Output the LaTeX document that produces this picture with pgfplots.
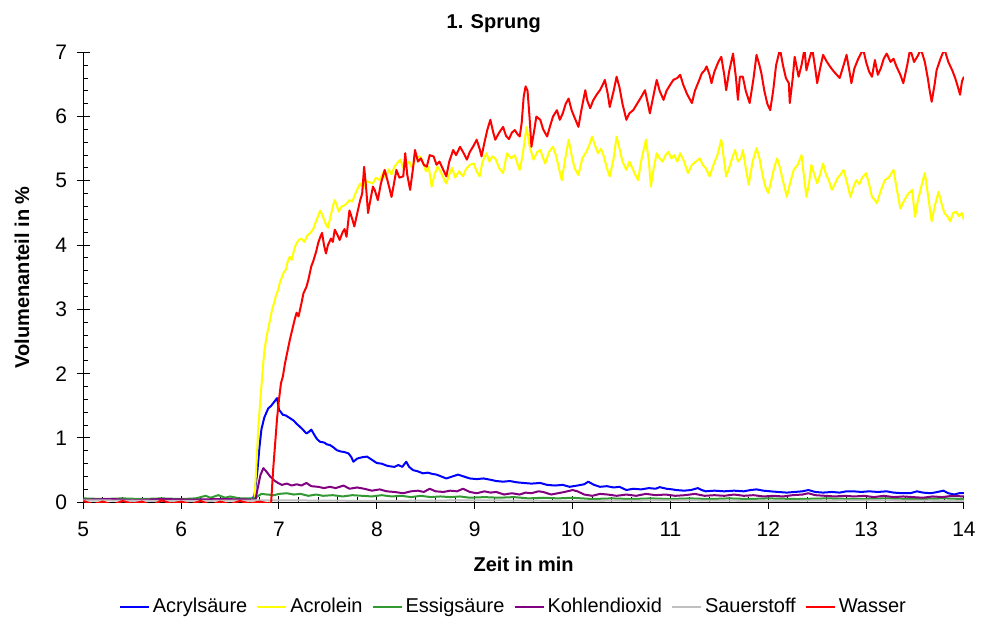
\documentclass[border=0pt]{standalone}
\usepackage{fontspec}
\setmainfont{Liberation Sans}
\usepackage{pgfplots}
\pgfplotsset{compat=1.18}

\definecolor{cAcryl}{RGB}{0,0,255}
\definecolor{cAcrolein}{RGB}{255,255,0}
\definecolor{cEssig}{RGB}{51,153,51}
\definecolor{cCO2}{RGB}{128,0,128}
\definecolor{cO2}{RGB}{192,192,192}
\definecolor{cWasser}{RGB}{255,0,0}

\begin{document}
\begin{tikzpicture}
\begin{axis}[
  scale only axis,
  width=440.4pt, height=225pt,
  xmin=5, xmax=14, ymin=0, ymax=7,
  axis x line=bottom, axis y line=left,
  axis line style={-, black, line width=0.5pt},
  xtick={5,...,14}, ytick={0,...,7},
  minor x tick num=4, minor y tick num=4,
  tick align=inside,
  major tick length=6.3pt, minor tick length=2.6pt,
  major x tick style={yshift=-3.15pt, black, line width=0.5pt},
  major y tick style={xshift=-3.15pt, black, line width=0.5pt},
  minor tick style={black, line width=0.5pt},
  /pgf/number format/assume math mode=true,
  tick label style={font=\fontsize{10.5}{12}\selectfont},
  xticklabel style={anchor=north, yshift=-6.5pt},
  yticklabel style={anchor=east, xshift=-4.6pt},
  every axis title shift=0pt,
  title={1. Sprung},
  title style={font=\bfseries\fontsize{10}{12}\selectfont, at={(axis description cs:0.466,1.064)}, anchor=center},
  xlabel={Zeit in min},
  xlabel style={font=\bfseries\fontsize{10}{12}\selectfont, at={(axis description cs:0.5,-0.139)}, anchor=center},
  ylabel={Volumenanteil in \%},
  ylabel style={font=\bfseries\fontsize{10}{12}\selectfont, at={(axis description cs:-0.0696,0.5)}, anchor=center},
  legend columns=6,
  legend style={draw=none, fill=none, font=\fontsize{10}{12}\selectfont,
    at={(axis description cs:0.4889,-0.2324)}, anchor=center,
    /tikz/every even column/.append style={column sep=3pt},
    nodes={inner sep=1.5pt}},
  legend image code/.code={\draw[#1, line width=1pt] (0pt,0pt) -- (14.5pt,0pt);},
  every axis plot/.append style={line width=1pt, line join=round},
]

% Acrylsaeure
\addplot[cAcryl] coordinates {
(5.0,0.03)(5.3,0.04)(5.6,0.03)(5.9,0.04)(6.2,0.03)(6.5,0.04)(6.72,0.03)
(6.75,0.11)(6.78,0.5)(6.80,0.85)(6.82,1.13)(6.85,1.32)(6.89,1.46)(6.92,1.5)(6.94,1.54)
(6.96,1.58)(6.98,1.62)(7.00,1.44)(7.02,1.40)(7.04,1.36)(7.07,1.35)(7.11,1.31)(7.15,1.27)
(7.18,1.22)(7.21,1.18)(7.25,1.12)(7.28,1.07)(7.31,1.10)(7.33,1.13)(7.36,1.05)(7.39,0.98)
(7.42,0.94)(7.46,0.93)(7.49,0.90)(7.52,0.89)(7.56,0.85)(7.59,0.81)(7.63,0.79)(7.67,0.78)
(7.71,0.76)(7.74,0.70)(7.76,0.63)(7.80,0.68)(7.85,0.70)(7.90,0.71)(7.95,0.66)(8.00,0.61)
(8.05,0.60)(8.10,0.57)(8.13,0.56)(8.18,0.55)(8.22,0.58)(8.26,0.55)(8.30,0.63)(8.33,0.55)
(8.37,0.50)(8.42,0.48)(8.47,0.45)(8.52,0.46)(8.57,0.44)(8.61,0.43)(8.66,0.40)(8.71,0.37)
(8.77,0.40)(8.83,0.43)(8.89,0.40)(8.95,0.37)(9.02,0.36)(9.09,0.37)(9.16,0.35)(9.22,0.33)
(9.29,0.32)(9.36,0.33)(9.43,0.31)(9.50,0.30)(9.58,0.29)(9.67,0.30)(9.74,0.27)(9.82,0.26)
(9.90,0.27)(9.97,0.24)(10.05,0.26)(10.12,0.28)(10.16,0.32)(10.22,0.27)(10.28,0.24)(10.35,0.25)
(10.42,0.23)(10.48,0.24)(10.55,0.19)(10.62,0.21)(10.70,0.20)(10.78,0.22)(10.85,0.21)(10.89,0.235)
(10.96,0.21)(11.02,0.20)(11.06,0.19)(11.14,0.18)(11.21,0.19)(11.28,0.22)(11.32,0.19)(11.36,0.17)
(11.45,0.18)(11.55,0.17)(11.65,0.18)(11.75,0.17)(11.82,0.19)(11.88,0.20)(11.95,0.18)(12.02,0.17)
(12.10,0.16)(12.19,0.15)(12.27,0.16)(12.35,0.17)(12.41,0.19)(12.48,0.16)(12.56,0.15)(12.65,0.16)
(12.73,0.15)(12.80,0.17)(12.87,0.17)(12.95,0.16)(13.03,0.17)(13.12,0.16)(13.21,0.17)(13.28,0.15)
(13.38,0.14)(13.45,0.14)(13.52,0.17)(13.58,0.15)(13.66,0.14)(13.73,0.16)(13.79,0.18)(13.84,0.14)
(13.90,0.12)(13.95,0.14)(14.00,0.14)
};
\addlegendentry{Acrylsäure}

% Acrolein
\addplot[cAcrolein] coordinates {
(5.0,0.03)(5.5,0.04)(6.0,0.03)(6.5,0.04)(6.73,0.03)
(6.75,0.05)(6.77,0.6)(6.79,1.2)(6.81,1.6)(6.83,2.0)(6.85,2.35)(6.87,2.55)(6.89,2.7)
(6.91,2.85)(6.93,3.0)(6.95,3.1)(6.97,3.22)(6.99,3.3)(7.01,3.42)(7.03,3.5)(7.05,3.58)
(7.07,3.62)(7.09,3.75)(7.11,3.82)(7.13,3.77)(7.15,3.9)(7.17,4.0)(7.20,4.08)(7.23,4.1)
(7.26,4.05)(7.29,4.15)(7.32,4.19)(7.35,4.25)(7.38,4.38)(7.40,4.45)(7.42,4.54)(7.44,4.48)
(7.46,4.4)(7.48,4.32)(7.50,4.27)(7.52,4.4)(7.55,4.6)(7.57,4.70)(7.59,4.62)(7.61,4.52)
(7.64,4.6)(7.67,4.62)(7.70,4.66)(7.72,4.70)(7.75,4.68)(7.78,4.8)(7.81,4.9)(7.83,4.96)
(7.86,4.88)(7.89,5.0)(7.92,4.98)(7.96,4.96)(7.99,5.05)(8.03,5.01)(8.06,5.12)(8.09,5.05)
(8.12,5.18)(8.15,5.1)(8.18,5.22)(8.21,5.28)(8.24,5.33)(8.27,5.2)(8.30,5.25)(8.33,5.3)
(8.36,5.2)(8.40,5.35)(8.44,5.38)(8.47,5.3)(8.50,5.15)(8.53,5.22)(8.56,4.91)(8.59,5.1)
(8.62,5.22)(8.65,5.15)(8.68,5.05)(8.71,4.96)(8.74,5.1)(8.77,5.2)(8.80,5.05)(8.84,5.15)
(8.88,5.07)(8.91,5.18)(8.95,5.25)(8.99,5.27)(9.02,5.15)(9.05,5.07)(9.08,5.3)(9.12,5.43)
(9.15,5.3)(9.18,5.38)(9.21,5.35)(9.25,5.2)(9.29,5.12)(9.33,5.43)(9.37,5.35)(9.41,5.4)
(9.44,5.25)(9.46,5.17)(9.49,5.4)(9.53,5.84)(9.56,5.55)(9.60,5.33)(9.64,5.45)(9.67,5.48)
(9.70,5.35)(9.72,5.27)(9.76,5.45)(9.80,5.53)(9.83,5.4)(9.86,5.2)(9.89,5.01)(9.92,5.3)
(9.96,5.64)(9.99,5.4)(10.02,5.2)(10.06,5.09)(10.10,5.35)(10.14,5.45)(10.17,5.55)(10.20,5.69)
(10.23,5.55)(10.26,5.43)(10.29,5.5)(10.32,5.38)(10.35,5.2)(10.38,5.07)(10.42,5.35)(10.45,5.69)
(10.48,5.5)(10.51,5.3)(10.55,5.17)(10.58,5.3)(10.61,5.2)(10.64,5.1)(10.67,5.01)(10.70,5.3)
(10.75,5.64)(10.78,5.3)(10.80,4.91)(10.83,5.2)(10.86,5.43)(10.89,5.35)(10.92,5.3)(10.95,5.4)
(10.98,5.45)(11.01,5.35)(11.04,5.4)(11.07,5.3)(11.10,5.43)(11.14,5.3)(11.18,5.12)(11.22,5.25)
(11.26,5.3)(11.30,5.35)(11.33,5.25)(11.36,5.2)(11.40,5.07)(11.44,5.25)(11.48,5.4)(11.52,5.64)
(11.55,5.3)(11.57,5.07)(11.60,5.2)(11.63,5.35)(11.66,5.48)(11.69,5.3)(11.72,5.35)(11.74,5.48)
(11.77,5.2)(11.80,4.94)(11.84,5.3)(11.88,5.51)(11.91,5.35)(11.94,5.1)(11.97,4.91)(12.00,4.81)
(12.03,5.0)(12.06,5.2)(12.09,5.35)(12.12,5.2)(12.15,5.0)(12.19,4.75)(12.22,4.95)(12.26,5.17)
(12.30,5.25)(12.34,5.40)(12.37,5.0)(12.39,4.75)(12.42,5.0)(12.44,5.25)(12.47,5.1)(12.50,4.96)
(12.53,5.1)(12.56,5.27)(12.59,5.1)(12.62,5.0)(12.65,4.86)(12.68,4.95)(12.71,5.05)(12.74,5.1)
(12.77,5.17)(12.80,5.0)(12.84,4.75)(12.87,4.9)(12.90,5.01)(12.93,4.95)(12.96,5.05)(13.00,5.12)
(13.03,4.95)(13.06,4.75)(13.09,4.7)(13.11,4.65)(13.15,4.85)(13.19,5.01)(13.23,5.05)(13.28,5.17)
(13.31,4.9)(13.35,4.57)(13.39,4.7)(13.43,4.8)(13.47,4.86)(13.50,4.44)(13.53,4.7)(13.57,4.95)
(13.60,5.12)(13.63,4.8)(13.67,4.37)(13.70,4.6)(13.74,4.83)(13.77,4.65)(13.80,4.5)(13.83,4.45)
(13.86,4.37)(13.89,4.5)(13.92,4.52)(13.95,4.45)(13.98,4.5)(14.00,4.39)
};
\addlegendentry{Acrolein}

% Essigsaeure
\addplot[cEssig] coordinates {
(5.0,0.06)(5.2,0.05)(5.4,0.06)(5.6,0.05)(5.8,0.06)(6.0,0.05)(6.15,0.06)(6.25,0.10)
(6.3,0.07)(6.38,0.11)(6.45,0.07)(6.5,0.09)(6.6,0.06)(6.75,0.06)(6.78,0.09)(6.82,0.13)
(6.88,0.12)(6.95,0.11)(7.0,0.13)(7.08,0.14)(7.15,0.12)(7.22,0.13)(7.30,0.10)(7.38,0.12)
(7.45,0.10)(7.55,0.11)(7.65,0.09)(7.75,0.11)(7.85,0.10)(7.95,0.09)(8.05,0.11)(8.15,0.09)
(8.25,0.10)(8.35,0.08)(8.45,0.10)(8.55,0.08)(8.65,0.09)(8.75,0.08)(8.85,0.09)(8.95,0.07)
(9.1,0.08)(9.25,0.07)(9.4,0.08)(9.55,0.06)(9.7,0.07)(9.85,0.06)(10.0,0.07)(10.2,0.05)
(10.4,0.06)(10.6,0.05)(10.8,0.06)(11.0,0.05)(11.2,0.06)(11.4,0.05)(11.6,0.06)(11.8,0.05)
(12.0,0.06)(12.3,0.05)(12.6,0.06)(12.9,0.05)(13.2,0.06)(13.5,0.05)(13.8,0.06)(14.0,0.05)
};
\addlegendentry{Essigsäure}

% Kohlendioxid
\addplot[cCO2] coordinates {
(5.0,0.04)(5.3,0.05)(5.5,0.03)(5.8,0.05)(6.1,0.04)(6.4,0.05)(6.76,0.04)(6.78,0.2)
(6.81,0.42)(6.84,0.53)(6.87,0.48)(6.91,0.40)(6.95,0.34)(6.99,0.30)(7.03,0.27)(7.08,0.29)
(7.13,0.26)(7.18,0.28)(7.23,0.26)(7.28,0.30)(7.33,0.25)(7.40,0.24)(7.46,0.22)(7.52,0.24)
(7.58,0.22)(7.66,0.26)(7.72,0.21)(7.80,0.23)(7.87,0.21)(7.95,0.18)(8.03,0.20)(8.10,0.17)
(8.18,0.16)(8.27,0.14)(8.35,0.17)(8.42,0.18)(8.48,0.16)(8.54,0.21)(8.60,0.17)(8.68,0.16)
(8.75,0.18)(8.82,0.17)(8.88,0.21)(8.95,0.16)(9.02,0.14)(9.10,0.17)(9.16,0.15)(9.22,0.16)
(9.30,0.12)(9.38,0.14)(9.46,0.12)(9.52,0.15)(9.58,0.14)(9.65,0.17)(9.70,0.16)(9.78,0.12)
(9.85,0.14)(9.92,0.16)(10.00,0.19)(10.05,0.17)(10.12,0.12)(10.20,0.10)(10.28,0.13)(10.36,0.12)
(10.45,0.10)(10.55,0.12)(10.65,0.10)(10.75,0.13)(10.85,0.11)(10.95,0.12)(11.05,0.10)(11.15,0.11)
(11.25,0.13)(11.35,0.10)(11.45,0.11)(11.55,0.10)(11.65,0.12)(11.75,0.10)(11.85,0.11)(11.95,0.09)
(12.05,0.10)(12.15,0.09)(12.25,0.11)(12.35,0.12)(12.41,0.14)(12.48,0.11)(12.58,0.10)(12.68,0.09)
(12.78,0.10)(12.88,0.09)(12.98,0.10)(13.08,0.08)(13.18,0.10)(13.28,0.08)(13.38,0.09)(13.48,0.08)
(13.58,0.07)(13.68,0.09)(13.78,0.08)(13.88,0.10)(14.0,0.09)
};
\addlegendentry{Kohlendioxid}

% Sauerstoff
\addplot[cO2] coordinates {
(5.0,0.03)(6.0,0.02)(7.0,0.03)(8.0,0.02)(9.0,0.03)(10.0,0.02)(11.0,0.03)(12.0,0.02)(13.0,0.03)(14.0,0.02)
};
\addlegendentry{Sauerstoff}

% Wasser
\addplot[cWasser] coordinates {
(5.00,0.02)(5.1,-0.03)(5.2,0.01)(5.3,-0.04)(5.4,0.02)(5.5,-0.02)(5.6,0.01)(5.7,-0.05)
(5.8,0.03)(5.9,-0.02)(6.0,0.01)(6.1,-0.03)(6.2,0.02)(6.3,-0.04)(6.4,0.01)(6.5,-0.03)
(6.6,0.02)(6.7,-0.02)(6.8,0.01)(6.9,-0.02)
(6.92,0.0)(6.94,0.5)(6.96,0.9)(6.98,1.3)(7.00,1.6)(7.02,1.85)(7.04,1.96)(7.06,2.15)
(7.08,2.3)(7.11,2.52)(7.13,2.65)(7.16,2.84)(7.18,2.95)(7.20,2.89)(7.23,3.1)(7.25,3.25)
(7.28,3.35)(7.30,3.46)(7.33,3.67)(7.35,3.75)(7.38,3.9)(7.40,4.03)(7.42,4.12)(7.44,4.19)
(7.46,4.0)(7.48,3.87)(7.50,4.0)(7.53,4.1)(7.55,4.05)(7.57,4.24)(7.60,4.15)(7.62,4.08)
(7.65,4.2)(7.67,4.25)(7.69,4.13)(7.72,4.54)(7.75,4.4)(7.77,4.29)(7.80,4.5)(7.83,4.70)
(7.85,4.8)(7.87,5.22)(7.89,4.9)(7.91,4.50)(7.94,4.75)(7.96,4.91)(7.98,4.85)(8.01,4.70)
(8.04,4.95)(8.08,5.17)(8.11,5.0)(8.15,4.75)(8.18,5.0)(8.20,5.17)(8.23,5.05)(8.27,5.07)
(8.29,5.43)(8.31,5.1)(8.34,4.86)(8.37,5.2)(8.39,5.48)(8.42,5.3)(8.45,5.35)(8.48,5.25)
(8.51,5.22)(8.54,5.4)(8.58,5.38)(8.61,5.25)(8.64,5.3)(8.67,5.2)(8.71,5.07)(8.74,5.3)
(8.78,5.48)(8.81,5.4)(8.85,5.53)(8.88,5.45)(8.92,5.33)(8.95,5.45)(8.99,5.55)(9.02,5.64)
(9.05,5.5)(9.07,5.38)(9.10,5.6)(9.13,5.8)(9.16,5.95)(9.19,5.75)(9.21,5.64)(9.25,5.75)
(9.29,5.84)(9.32,5.7)(9.35,5.65)(9.38,5.75)(9.41,5.79)(9.44,5.72)(9.46,5.69)(9.48,5.9)
(9.50,6.3)(9.52,6.47)(9.54,6.4)(9.56,6.0)(9.58,5.53)(9.61,5.8)(9.63,6.0)(9.67,5.95)
(9.70,5.8)(9.74,5.69)(9.77,5.85)(9.80,6.0)(9.84,6.10)(9.87,5.95)(9.90,6.05)(9.93,6.2)
(9.96,6.28)(9.99,6.1)(10.03,5.95)(10.06,5.84)(10.09,6.1)(10.13,6.41)(10.15,6.25)(10.18,6.13)
(10.21,6.25)(10.25,6.35)(10.28,6.41)(10.31,6.5)(10.33,6.57)(10.36,6.35)(10.38,6.15)(10.42,6.4)
(10.45,6.62)(10.48,6.45)(10.51,6.2)(10.55,5.95)(10.58,6.05)(10.62,6.10)(10.66,6.2)(10.70,6.3)
(10.74,6.41)(10.77,6.2)(10.79,6.05)(10.83,6.35)(10.86,6.57)(10.89,6.4)(10.93,6.26)(10.96,6.4)
(11.00,6.5)(11.03,6.57)(11.07,6.6)(11.10,6.65)(11.13,6.5)(11.17,6.35)(11.22,6.21)(11.25,6.4)
(11.29,6.55)(11.32,6.67)(11.35,6.72)(11.37,6.78)(11.40,6.65)(11.42,6.52)(11.45,6.7)(11.49,6.85)
(11.52,6.93)(11.55,6.65)(11.57,6.41)(11.60,6.7)(11.64,6.98)(11.67,6.6)(11.69,6.26)(11.71,6.62)
(11.74,6.62)(11.77,6.4)(11.81,6.21)(11.85,6.6)(11.88,6.96)(11.91,6.8)(11.93,6.67)(11.96,6.4)
(11.99,6.2)(12.02,6.10)(12.05,6.4)(12.08,6.8)(12.12,7.05)(12.15,6.8)(12.18,6.6)(12.21,6.52)
(12.22,6.21)(12.25,6.6)(12.27,6.93)(12.31,6.62)(12.34,6.8)(12.37,7.05)(12.39,6.72)(12.42,6.9)
(12.45,7.05)(12.48,6.75)(12.50,6.52)(12.53,6.75)(12.56,6.96)(12.60,6.85)(12.63,6.78)(12.67,6.7)
(12.70,6.65)(12.73,6.60)(12.77,6.8)(12.80,6.96)(12.83,6.7)(12.85,6.52)(12.88,6.75)(12.92,6.9)
(12.97,7.05)(13.00,6.85)(13.03,6.7)(13.06,6.62)(13.09,6.88)(13.12,6.65)(13.15,6.75)(13.18,6.9)
(13.21,6.98)(13.25,6.85)(13.28,6.9)(13.31,6.78)(13.35,6.65)(13.38,6.52)(13.42,6.8)(13.45,7.05)
(13.49,6.85)(13.53,6.95)(13.56,7.05)(13.60,6.85)(13.63,6.6)(13.65,6.4)(13.67,6.23)(13.70,6.5)
(13.72,6.72)(13.76,6.9)(13.80,7.05)(13.84,6.85)(13.88,6.72)(13.91,6.6)(13.94,6.45)(13.96,6.34)
(13.98,6.55)(14.00,6.62)
};
\addlegendentry{Wasser}

\end{axis}
\pgfresetboundingbox
\path[use as bounding box] (-41.65pt,-59.3pt) rectangle (449.4pt,251.15pt);
\end{tikzpicture}
\end{document}
